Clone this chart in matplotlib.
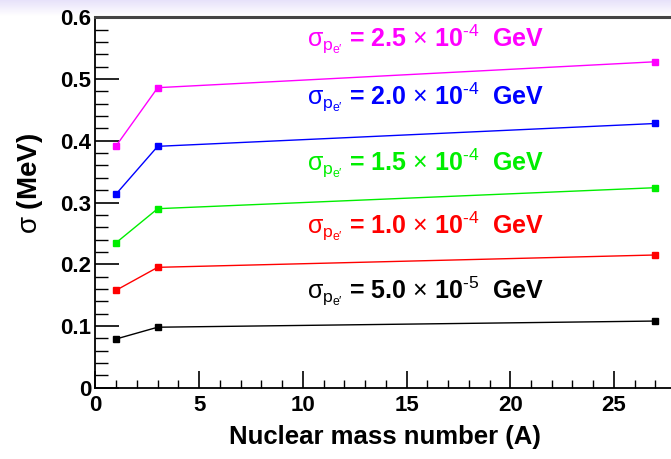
import matplotlib
matplotlib.use('Agg')
import matplotlib.pyplot as plt
import numpy as np
from matplotlib.ticker import MultipleLocator

plt.rcParams['font.family'] = ['Liberation Sans', 'DejaVu Sans']
plt.rcParams['mathtext.fontset'] = 'custom'
plt.rcParams['mathtext.rm'] = 'Liberation Sans'
plt.rcParams['mathtext.it'] = 'Liberation Sans'
plt.rcParams['mathtext.bf'] = 'Liberation Sans:bold'

# 数据：核质量数 A 与分辨率 sigma (MeV)
mass_number = [1, 3, 27]
sigma_50 = [0.079, 0.098, 0.108]
sigma_100 = [0.158, 0.195, 0.215]
sigma_150 = [0.235, 0.290, 0.324]
sigma_200 = [0.314, 0.391, 0.428]
sigma_250 = [0.392, 0.486, 0.528]

series = [sigma_250, sigma_200, sigma_150, sigma_100, sigma_50]
colors = ['#ff00ff', '#0000ff', '#00ee00', '#ff0000', '#000000']
labels = ['2.5', '2.0', '1.5', '1.0', '5.0']
exps = ['4', '4', '4', '4', '5']
label_y = [0.564, 0.470, 0.364, 0.261, 0.156]

fig = plt.figure(figsize=(6.71, 4.59), dpi=100)

# 顶部淡紫色渐变背景
bg = fig.add_axes([0, 0.965, 1, 0.035])
grad = np.linspace(1, 0, 50).reshape(-1, 1)
bg.imshow(grad, aspect='auto', cmap=matplotlib.colors.LinearSegmentedColormap.from_list(
    'lav', ['#ffffff', '#e6e0fa']), extent=[0, 1, 0, 1])
bg.axis('off')

ax = fig.add_axes([0.1423, 0.1553, 0.8654, 0.807])
for ys, c in zip(series, colors):
    ax.plot(mass_number, ys, color=c, lw=1.0, marker='s', ms=4, mec=c, mfc=c)

ax.set_xlim(0, 28)
ax.set_ylim(0, 0.6)
ax.xaxis.set_major_locator(MultipleLocator(5))
ax.xaxis.set_minor_locator(MultipleLocator(1))
ax.yaxis.set_major_locator(MultipleLocator(0.1))
ax.yaxis.set_minor_locator(MultipleLocator(0.02))
ax.yaxis.set_major_formatter(matplotlib.ticker.FuncFormatter(
    lambda v, p: '0' if abs(v) < 1e-9 else '%.1f' % v))
ax.tick_params(axis='both', which='both', direction='in', labelsize=16)
ax.tick_params(axis='y', which='major', length=17, width=1.2, pad=3)
ax.tick_params(axis='y', which='minor', length=9, width=1.0)
ax.tick_params(axis='x', which='major', length=12, width=1.2, pad=5)
ax.tick_params(axis='x', which='minor', length=6, width=1.0)
for lab in ax.get_xticklabels() + ax.get_yticklabels():
    lab.set_fontweight('bold')
ax.spines['right'].set_visible(False)
ax.spines['top'].set_linewidth(2.2)
ax.spines['top'].set_color('#444444')
ax.spines['left'].set_linewidth(1.3)
ax.spines['bottom'].set_linewidth(1.3)

for lab, e, yy, c in zip(labels, exps, label_y, colors):
    txt = r'$\sigma_{p_{e\prime}}$ = ' + lab + r' $\times$ 10$^{' + '\u2010' + e + r'}$  GeV'
    ax.text(15.9, yy, txt, color=c, fontsize=18, fontweight='bold',
            ha='center', va='center')

fig.text(0.574, 0.048, 'Nuclear mass number (A)', fontsize=18.5, fontweight='bold',
         ha='center', va='center')
fig.text(0.045, 0.601, r'$\sigma$ (MeV)', fontsize=20, fontweight='bold', rotation=90,
         ha='center', va='center')

fig.savefig('out.png', dpi=100)
